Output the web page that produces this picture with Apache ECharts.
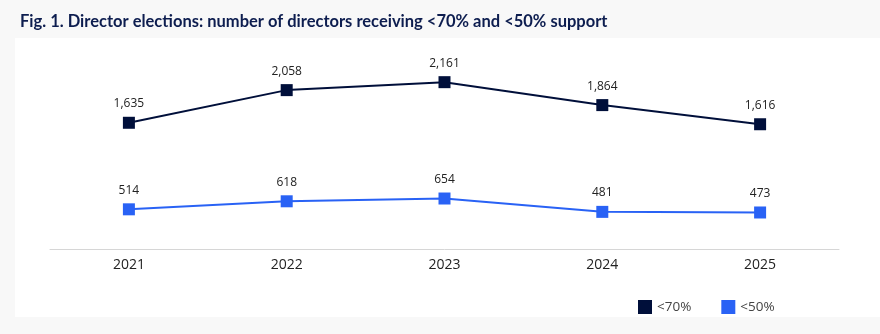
<!DOCTYPE html>
<html>
<head>
<meta charset="utf-8">
<script src="https://cdn.jsdelivr.net/npm/echarts@6/dist/echarts.min.js"></script>
<style>
  html, body { margin: 0; padding: 0; background: #f8f8f8; }
  #chart { width: 880px; height: 334px; }
</style>
</head>
<body>
<div id="chart"></div>
<script>
// Director elections: directors receiving <70% and <50% support, 2021-2025
const years = ['2021', '2022', '2023', '2024', '2025'];
const under70 = [1635, 2058, 2161, 1864, 1616];
const under50 = [514, 618, 654, 481, 473];
const seriesNames = ['<70%', '<50%'];

const NAVY = '#000f3a';
const BLUE = '#2962f5';

const chart = echarts.init(document.getElementById('chart'));

const fmt = v => Number(v).toLocaleString('en-US');

function lineSeries(name, data, color) {
  return {
    name: name,
    type: 'line',
    data: data,
    symbol: 'rect',
    symbolSize: 12,
    itemStyle: { color: color },
    lineStyle: { color: color, width: 2 },
    label: {
      show: true,
      position: 'top',
      distance: 7,
      color: '#222',
      fontFamily: 'Open Sans',
      fontSize: 12,
      formatter: p => fmt(p.value)
    },
    emphasis: { disabled: true },
    animation: false
  };
}

chart.setOption({
  backgroundColor: '#f8f8f8',
  animation: false,
  title: {
    text: 'Fig. 1. Director elections: number of directors receiving <70% and <50% support',
    left: 15,
    top: 8,
    textStyle: {
      fontFamily: 'Lato',
      fontWeight: 'bold',
      fontSize: 16.5,
      color: '#0d1d4f'
    }
  },
  graphic: [{
    type: 'rect',
    z: -10,
    silent: true,
    shape: { x: 15, y: 38, width: 870, height: 279 },
    style: { fill: '#ffffff' }
  }],
  legend: {
    data: seriesNames,
    left: 633,
    top: 295,
    icon: 'rect',
    itemWidth: 14,
    itemHeight: 14,
    itemGap: 30,
    textStyle: { fontFamily: 'Open Sans', fontSize: 13.5, color: '#444' }
  },
  grid: { left: 50, right: 41, top: 56, bottom: 85 },
  xAxis: {
    type: 'category',
    data: years,
    boundaryGap: true,
    axisLine: { lineStyle: { color: '#d6d6d6', width: 1 } },
    axisTick: { show: false },
    axisLabel: {
      fontFamily: 'Open Sans',
      fontSize: 14,
      color: '#222',
      margin: 9
    }
  },
  yAxis: {
    type: 'value',
    min: 0,
    max: 2500,
    show: false,
    splitLine: { show: false }
  },
  series: [
    lineSeries(seriesNames[0], under70, NAVY),
    lineSeries(seriesNames[1], under50, BLUE)
  ]
});
</script>
</body>
</html>
